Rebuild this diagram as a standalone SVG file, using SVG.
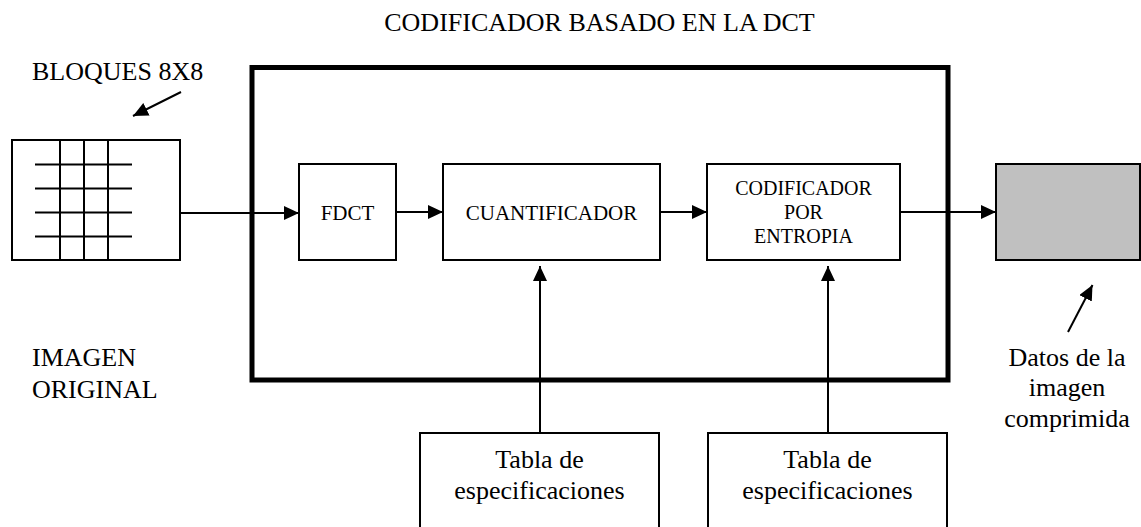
<svg xmlns="http://www.w3.org/2000/svg" width="1141" height="527" viewBox="0 0 1141 527" font-family="'Liberation Serif', 'Times New Roman', Times, serif">
<style>
text{font-family:'Liberation Serif','Times New Roman',Times,serif;fill:#000}
.lg{font-size:26px}
.md{font-size:21px}
.sm{font-size:20px}
.box{fill:#fff;stroke:#000;stroke-width:2}
.ln{stroke:#000;stroke-width:2;fill:none}
</style>
<defs>
<marker id="ah" viewBox="0 0 15 14" refX="15" refY="7" markerWidth="15" markerHeight="14" markerUnits="userSpaceOnUse" orient="auto">
<path d="M0,0 L15,7 L0,14 Z" fill="#000"/>
</marker>
</defs>
<rect width="1141" height="527" fill="#fff"/>
<text class="lg" x="599.5" y="31" text-anchor="middle">CODIFICADOR BASADO EN LA DCT</text>
<g id="encoder">
<rect x="252" y="67.5" width="696" height="312.5" fill="none" stroke="#000" stroke-width="5"/>
</g>
<g id="imagen">
<rect class="box" x="12" y="140" width="168" height="120"/>
<path class="ln" d="M60,140V260M84,140V260M108,140V260M35,164.5H132M35,188.5H132M35,212.5H132M35,236.5H132"/>
<text class="lg" x="32" y="80">BLOQUES 8X8</text>
<text class="lg" x="32" y="366">IMAGEN</text>
<text class="lg" x="32" y="398">ORIGINAL</text>
</g>
<g id="fdct">
<rect class="box" x="299" y="164" width="97" height="96"/>
<text class="md" x="347.5" y="220" text-anchor="middle">FDCT</text>
</g>
<g id="cuantificador">
<rect class="box" x="443" y="164" width="217" height="96"/>
<text class="md" x="551.5" y="220" text-anchor="middle">CUANTIFICADOR</text>
</g>
<g id="codificador">
<rect class="box" x="707" y="164" width="193" height="96"/>
<text class="sm" x="803.5" y="195" text-anchor="middle">CODIFICADOR</text>
<text class="sm" x="803.5" y="219" text-anchor="middle">POR</text>
<text class="sm" x="803.5" y="243" text-anchor="middle">ENTROPIA</text>
</g>
<g id="datos">
<rect x="996" y="164" width="144" height="96" fill="#c0c0c0" stroke="#000" stroke-width="2"/>
<text class="lg" x="1067" y="366" text-anchor="middle">Datos de la</text>
<text class="lg" x="1067" y="396" text-anchor="middle">imagen</text>
<text class="lg" x="1067" y="427" text-anchor="middle">comprimida</text>
</g>
<g id="tabla1">
<rect class="box" x="420" y="433" width="239" height="110"/>
<text class="lg" x="539.5" y="468" text-anchor="middle">Tabla de</text>
<text class="lg" x="539.5" y="499" text-anchor="middle">especificaciones</text>
</g>
<g id="tabla2">
<rect class="box" x="708" y="433" width="239" height="110"/>
<text class="lg" x="827.5" y="468" text-anchor="middle">Tabla de</text>
<text class="lg" x="827.5" y="499" text-anchor="middle">especificaciones</text>
</g>
<g id="connectors">
<line class="ln" x1="180" y1="213" x2="299" y2="213" marker-end="url(#ah)"/>
<line class="ln" x1="396" y1="212" x2="443" y2="212" marker-end="url(#ah)"/>
<line class="ln" x1="660" y1="212" x2="707" y2="212" marker-end="url(#ah)"/>
<line class="ln" x1="900" y1="212" x2="996" y2="212" marker-end="url(#ah)"/>
<line class="ln" x1="540" y1="433" x2="540" y2="266" marker-end="url(#ah)"/>
<line class="ln" x1="828" y1="433" x2="828" y2="266" marker-end="url(#ah)"/>
<line class="ln" x1="181" y1="92" x2="133" y2="116" marker-end="url(#ah)"/>
<line class="ln" x1="1068" y1="332" x2="1092.5" y2="285" marker-end="url(#ah)"/>
</g>
</svg>
